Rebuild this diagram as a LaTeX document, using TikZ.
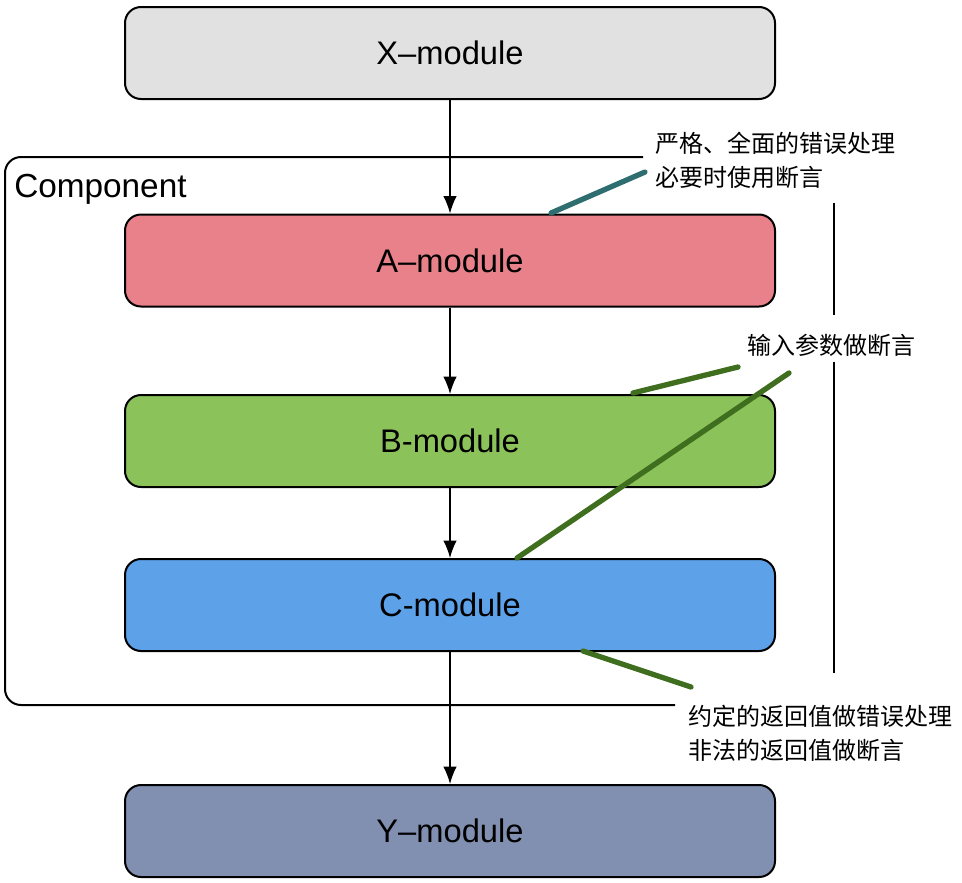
\documentclass[tikz,border=0pt]{standalone}
\usepackage{fontspec}
\setmainfont{Liberation Sans}
\newfontfamily\cjk{Noto Sans CJK SC}
\usetikzlibrary{arrows.meta}
\definecolor{xgray}{HTML}{E1E1E1}
\definecolor{ared}{HTML}{E8818A}
\definecolor{bgreen}{HTML}{8BC25A}
\definecolor{cblue}{HTML}{5DA2E8}
\definecolor{yslate}{HTML}{8190B1}
\definecolor{teal}{HTML}{2E6E70}
\definecolor{dgreen}{HTML}{3F6E1E}
\begin{document}
\begin{tikzpicture}[x=0.75pt,y=-0.75pt,
  modbox/.style={draw=black, line width=1.5pt, rounded corners=12pt,
    minimum width=487.5pt, minimum height=69pt, inner sep=0pt,
    font=\fontsize{24.5}{28}\selectfont},
  arr/.style={draw=black, line width=1pt, -{Latex[length=13pt,width=10pt]}},
  frame/.style={draw=black, line width=1.5pt},
  note/.style={anchor=west, align=left, inner sep=0pt,
    font=\cjk\fontsize{18}{25.5}\selectfont},
  tealline/.style={draw=teal, line width=4pt, line cap=round},
  greenline/.style={draw=dgreen, line width=4pt, line cap=round}]
\useasboundingbox (0,0) rectangle (962,882);
% container
\draw[frame, rounded corners=12pt] (643,157) -- (5,157) -- (5,705) -- (675,705);
\draw[frame] (834,203) -- (834,315);
\draw[frame] (834,362) -- (834,673);
\node[anchor=west, inner sep=0pt, font=\fontsize{25}{28}\selectfont] (comp) at (14,189) {Component};
% modules
\node[modbox, fill=xgray] (X) at (450,53) {X–module};
\node[modbox, fill=ared] (A) at (450,260.5) {A–module};
\node[modbox, fill=bgreen] (B) at (450,441) {B-module};
\node[modbox, fill=cblue] (C) at (450,605) {C-module};
\node[modbox, fill=yslate] (Y) at (450,831) {Y–module};
% arrows
\draw[arr] (X) -- (A);
\draw[arr] (A) -- (B);
\draw[arr] (B) -- (C);
\draw[arr] (C) -- (Y);
% notes
\node[note] (n1) at (655,160) {严格、全面的错误处理\\必要时使用断言};
\node[note] (n2) at (747,345) {输入参数做断言};
\node[note] (n3) at (688,733) {约定的返回值做错误处理\\非法的返回值做断言};
% note lines
\coordinate (t1a) at (551,213);
\coordinate (t1b) at (645,172);
\draw[tealline] (t1a) -- (t1b);
\coordinate (g1a) at (633,393);
\coordinate (g1b) at (738,367);
\draw[greenline] (g1a) -- (g1b);
\coordinate (g2a) at (517,558);
\coordinate (g2b) at (789,373);
\draw[greenline] (g2a) -- (g2b);
\coordinate (g3a) at (583,651);
\coordinate (g3b) at (691,687);
\draw[greenline] (g3a) -- (g3b);
\end{tikzpicture}
\end{document}
